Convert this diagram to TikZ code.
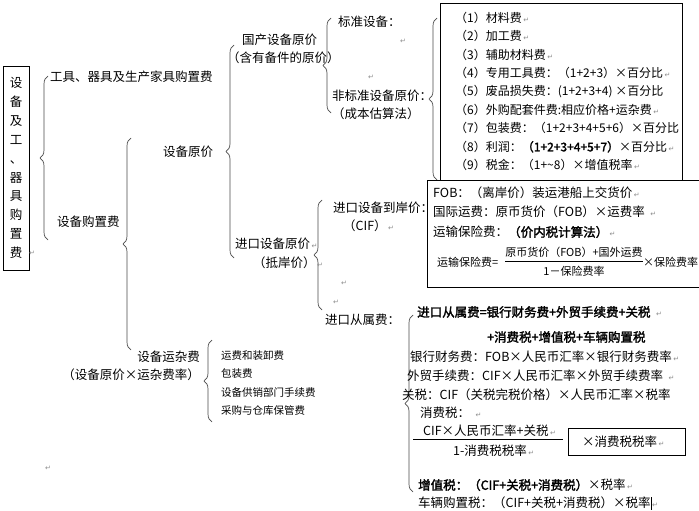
\documentclass[tikz,border=0pt]{standalone}
\usepackage{fontspec}
\setmainfont{Noto Sans CJK SC}
\newfontfamily\bfcjk{Noto Sans CJK SC}[FakeBold=2]
\newfontfamily\dvs{DejaVu Sans}
\usetikzlibrary{decorations.pathreplacing}
\newcommand\myfs[1]{\fontsize{#1}{#1}\selectfont}
\newcommand\retglyph{{\dvs\fontsize{7}{7}\selectfont\color{black!45}↵}}
\newcommand\retm{\hspace{1.5pt}\retglyph}
\newcommand\bld[1]{{\bfcjk #1}}
\begin{document}
\begin{tikzpicture}[x=1pt,y=-1pt,
  t/.style={anchor=west, inner sep=0pt, font=\myfs{12.5}},
  tl/.style={anchor=west, inner sep=0pt, font=\myfs{12}},
  te/.style={anchor=east, inner sep=0pt, font=\myfs{12.5}},
  sm/.style={anchor=west, inner sep=0pt, font=\myfs{10.5}},
  fm/.style={inner sep=0pt, font=\myfs{11}},
  rt/.style={anchor=west, inner sep=0pt},
  br/.style={decorate, decoration={brace, amplitude=8pt}, draw=black!70, line width=0.7pt},
  bx/.style={draw, line width=0.7pt, fill=white, inner sep=0pt, anchor=north west}]
\useasboundingbox (0,0) rectangle (699,511);
\fill[white] (0,0) rectangle (699,511);

% root
\node[draw, line width=0.7pt, minimum width=26pt, minimum height=204pt, inner sep=0pt,
      align=center, font={\fontsize{12.5}{18.9}\selectfont}] (root) at (16,168)
      {设\\备\\及\\工\\、\\器\\具\\购\\置\\费};
\node[rt] (r0) at (29,253) {\retglyph};

% braces
\draw[br] (48,240) -- (48,76);
\draw[br] (131,350) -- (131,138);
\draw[br] (234,258) -- (234,45);
\draw[br] (331,113) -- (331,18);
\draw[br] (437,180) -- (437,18);
\draw[br] (322,310) -- (322,200);
\draw[br] (413,492) -- (413,315);
\draw[br] (212,422) -- (212,340);

% level 1
\node[t] (tools) at (50,77) {工具、器具及生产家具购置费};
\node[t] (gzf) at (57,222) {设备购置费};
% level 2
\node[t] (sbyj) at (163,152) {设备原价};
\node[te] (yz1) at (200,357) {设备运杂费};
\node[te] (yz2) at (200,375) {（设备原价×运杂费率）};
\node[sm] (it1) at (221,356) {运费和装卸费};
\node[sm] (it2) at (221,374) {包装费};
\node[sm] (it3) at (221,393) {设备供销部门手续费};
\node[sm] (it4) at (221,411) {采购与仓库保管费};
\node[rt] (r1) at (45,468) {\retglyph};
% level 3
\node[t] (gc1) at (242,40) {国产设备原价};
\node[t] (gc2) at (227,58) {（含有备件的原价）};
\node[t] (jk1) at (235,244) {进口设备原价\retm};
\node[t] (jk2) at (253,263) {（抵岸价）\retm};
% level 4
\node[t] (bz) at (338,22) {标准设备：};
\node[rt] (r2) at (400,41) {\retglyph};
\node[rt] (r3) at (368,77) {\retglyph};
\node[t] (fbz1) at (332,96) {非标准设备原价：};
\node[t] (fbz2) at (332,114) {（成本估算法）};
\node[t] (cif1) at (333,208) {进口设备到岸价：};
\node[t] (cif2) at (343,226) {（CIF）\retm};
\node[rt] (r4) at (341,283) {\retglyph};
\node[rt] (r5) at (333,302) {\retglyph};
\node[t] (cs) at (325,320) {进口从属费：};

% list box
\node[bx, minimum width=242pt, minimum height=177pt] (lbox) at (440,3) {};
\node[tl] (l1) at (455,18) {（1）材料费\retm};
\node[tl] (l2) at (455,36.4) {（2）加工费\retm};
\node[tl] (l3) at (455,54.8) {（3）辅助材料费\retm};
\node[tl] (l4) at (455,73.2) {（4）专用工具费：（1+2+3）×百分比\retm};
\node[tl] (l5) at (455,91.6) {（5）废品损失费：(1+2+3+4) ×百分比};
\node[tl] (l6) at (455,110) {（6）外购配套件费:相应价格+运杂费\retm};
\node[tl] (l7) at (455,128.4) {（7）包装费：（1+2+3+4+5+6）×百分比};
\node[tl] (l8) at (455,146.8) {（8）利润：\bld{（1+2+3+4+5+7）}×百分比\retm};
\node[tl] (l9) at (455,165.2) {（9）税金：（1+\textasciitilde 8）×增值税率\retm};

% FOB box
\node[bx, minimum width=280pt, minimum height=107pt] (fbox) at (427,180) {};
\node[t] (f1) at (433,193) {FOB：（离岸价）装运港船上交货价\retm};
\node[t] (f2) at (433,212) {国际运费：原币货价（FOB）×运费率\hspace{4pt}\retm};
\node[t] (f3) at (433,232) {运输保险费：\bld{（价内税计算法）}\retm};
\node[fm, anchor=west] (fl) at (437,262) {运输保险费=};
\node[fm] (fn) at (574,252) {原币货价（FOB）+国外运费};
\node[fm] (fd) at (574,271) {1－保险费率};
\draw[line width=0.6pt] (fn.south west |- 0,261.5) -- (fn.south east |- 0,261.5);
\node[fm, anchor=west] (fr) at (fn.east |- 0,262) {×保险费率};

% imported extra charges
\node[t] (c1) at (417,312) {\bld{进口从属费=银行财务费+外贸手续费+关税}\hspace{4pt}\retm};
\node[t] (c2) at (487,337) {\bld{+消费税+增值税+车辆购置税}};
\node[t] (c3) at (410,357) {银行财务费：FOB×人民币汇率×银行财务费率\retm};
\node[t] (c4) at (407,376) {外贸手续费：CIF×人民币汇率×外贸手续费率\hspace{4pt}\retm};
\node[t] (c5) at (402,395) {关税：CIF（关税完税价格）×人民币汇率×税率};
\node[t] (c6) at (420,413) {消费税：\hspace{4pt}\retm};
\node[t] (cn) at (423,431) {CIF×人民币汇率+关税\retm};
\draw[line width=0.6pt] (413,439.5) -- (563,439.5);
\node[t] (cd) at (453,451) {1-消费税税率\retm};
\node[bx, minimum width=117pt, minimum height=27pt] (cbox) at (568,428) {};
\node[t] (cbt) at (582,441.5) {×消费税税率\retm};
\node[t] (c7) at (418,485) {\bld{增值税：（CIF+关税+消费税）}×税率\retm};
\node[t] (c8) at (418,503) {车辆购置税：（CIF+关税+消费税）×税率\rule[-2pt]{1.6pt}{13pt}\retglyph};
\end{tikzpicture}
\end{document}
